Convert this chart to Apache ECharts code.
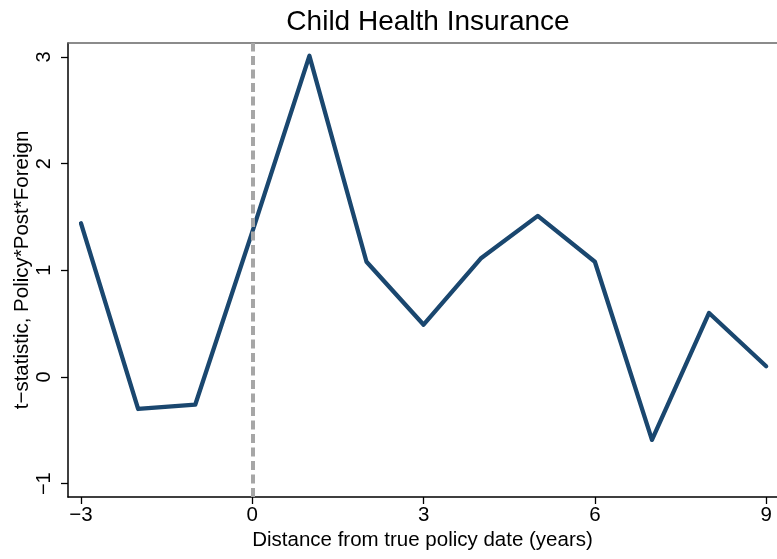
<!DOCTYPE html>
<html>
<head>
<meta charset="utf-8">
<script src="https://cdn.jsdelivr.net/npm/echarts@6/dist/echarts.min.js"></script>
<style>
  html, body { margin: 0; padding: 0; background: #fff; }
  #chart { width: 777px; height: 559px; }
</style>
</head>
<body>
<div id="chart"></div>
<script>
// Event-study t-statistics by year relative to the policy date
const years = [-3, -2, -1, 0, 1, 2, 3, 4, 5, 6, 7, 8, 9];
const tStats = [1.44, -0.30, -0.26, 1.36, 3.01, 1.08, 0.49, 1.11, 1.51, 1.08, -0.59, 0.60, 0.10];
const xTicks = [-3, 0, 3, 6, 9];
const yTicks = [-1, 0, 1, 2, 3];
const policyYear = 0;

const fontFamily = '"Liberation Sans", Arial, Helvetica, sans-serif';
const minusSign = v => String(v).replace('-', '\u2212');

const chart = echarts.init(document.getElementById('chart'), null, { renderer: 'canvas' });

chart.setOption({
  backgroundColor: '#ffffff',
  animation: false,
  title: {
    text: 'Child Health Insurance',
    left: 423,
    top: 3,
    textAlign: 'center',
    textStyle: { fontFamily, fontSize: 28, fontWeight: 'normal', color: '#000' }
  },
  grid: { left: 68, right: 0, top: 43, bottom: 62, containLabel: false, outerBoundsMode: 'none' },
  xAxis: [
    {
      type: 'value',
      position: 'bottom',
      min: -3.228,
      max: 9.19,
      name: 'Distance from true policy date (years)',
      nameLocation: 'middle',
      nameGap: 33,
      nameMoveOverlap: false,
      nameTextStyle: { fontFamily, fontSize: 20.5, color: '#000' },
      axisLine: { show: true, onZero: false, lineStyle: { color: '#000', width: 1.5 } },
      axisTick: { show: true, length: 7, lineStyle: { color: '#000', width: 1.3 }, customValues: xTicks },
      axisLabel: {
        fontFamily, fontSize: 20.5, color: '#000', margin: 8,
        customValues: xTicks,
        formatter: minusSign
      },
      splitLine: { show: false }
    },
    {
      type: 'value',
      position: 'top',
      min: -3.228,
      max: 9.19,
      axisLine: { show: true, onZero: false, lineStyle: { color: '#666', width: 1.5 } },
      axisTick: { show: false },
      axisLabel: { show: false },
      splitLine: { show: false }
    }
  ],
  yAxis: {
    type: 'value',
    min: -1.125,
    max: 3.13,
    name: 't\u2212statistic, Policy*Post*Foreign',
    nameLocation: 'middle',
    nameGap: 35,
    nameRotate: 90,
    nameMoveOverlap: false,
    nameTextStyle: { fontFamily, fontSize: 20.5, color: '#000' },
    axisLine: { show: true, onZero: false, lineStyle: { color: '#000', width: 1.5 } },
    axisTick: { show: true, length: 7, lineStyle: { color: '#000', width: 1.3 }, customValues: yTicks },
    axisLabel: {
      fontFamily, fontSize: 20, color: '#000', margin: 14, rotate: 90,
      customValues: yTicks,
      formatter: minusSign
    },
    splitLine: { show: false }
  },
  series: [
    {
      type: 'line',
      xAxisIndex: 0,
      data: years.map((y, i) => [y, tStats[i]]),
      symbol: 'none',
      lineStyle: { color: '#1a476f', width: 4.3, join: 'round', cap: 'round' },
      markLine: {
        silent: true,
        symbol: ['none', 'none'],
        label: { show: false },
        lineStyle: { color: '#a6a6a6', width: 4, type: [9, 4.5] },
        data: [{ xAxis: policyYear }]
      },
      z: 3
    }
  ]
});
</script>
</body>
</html>
